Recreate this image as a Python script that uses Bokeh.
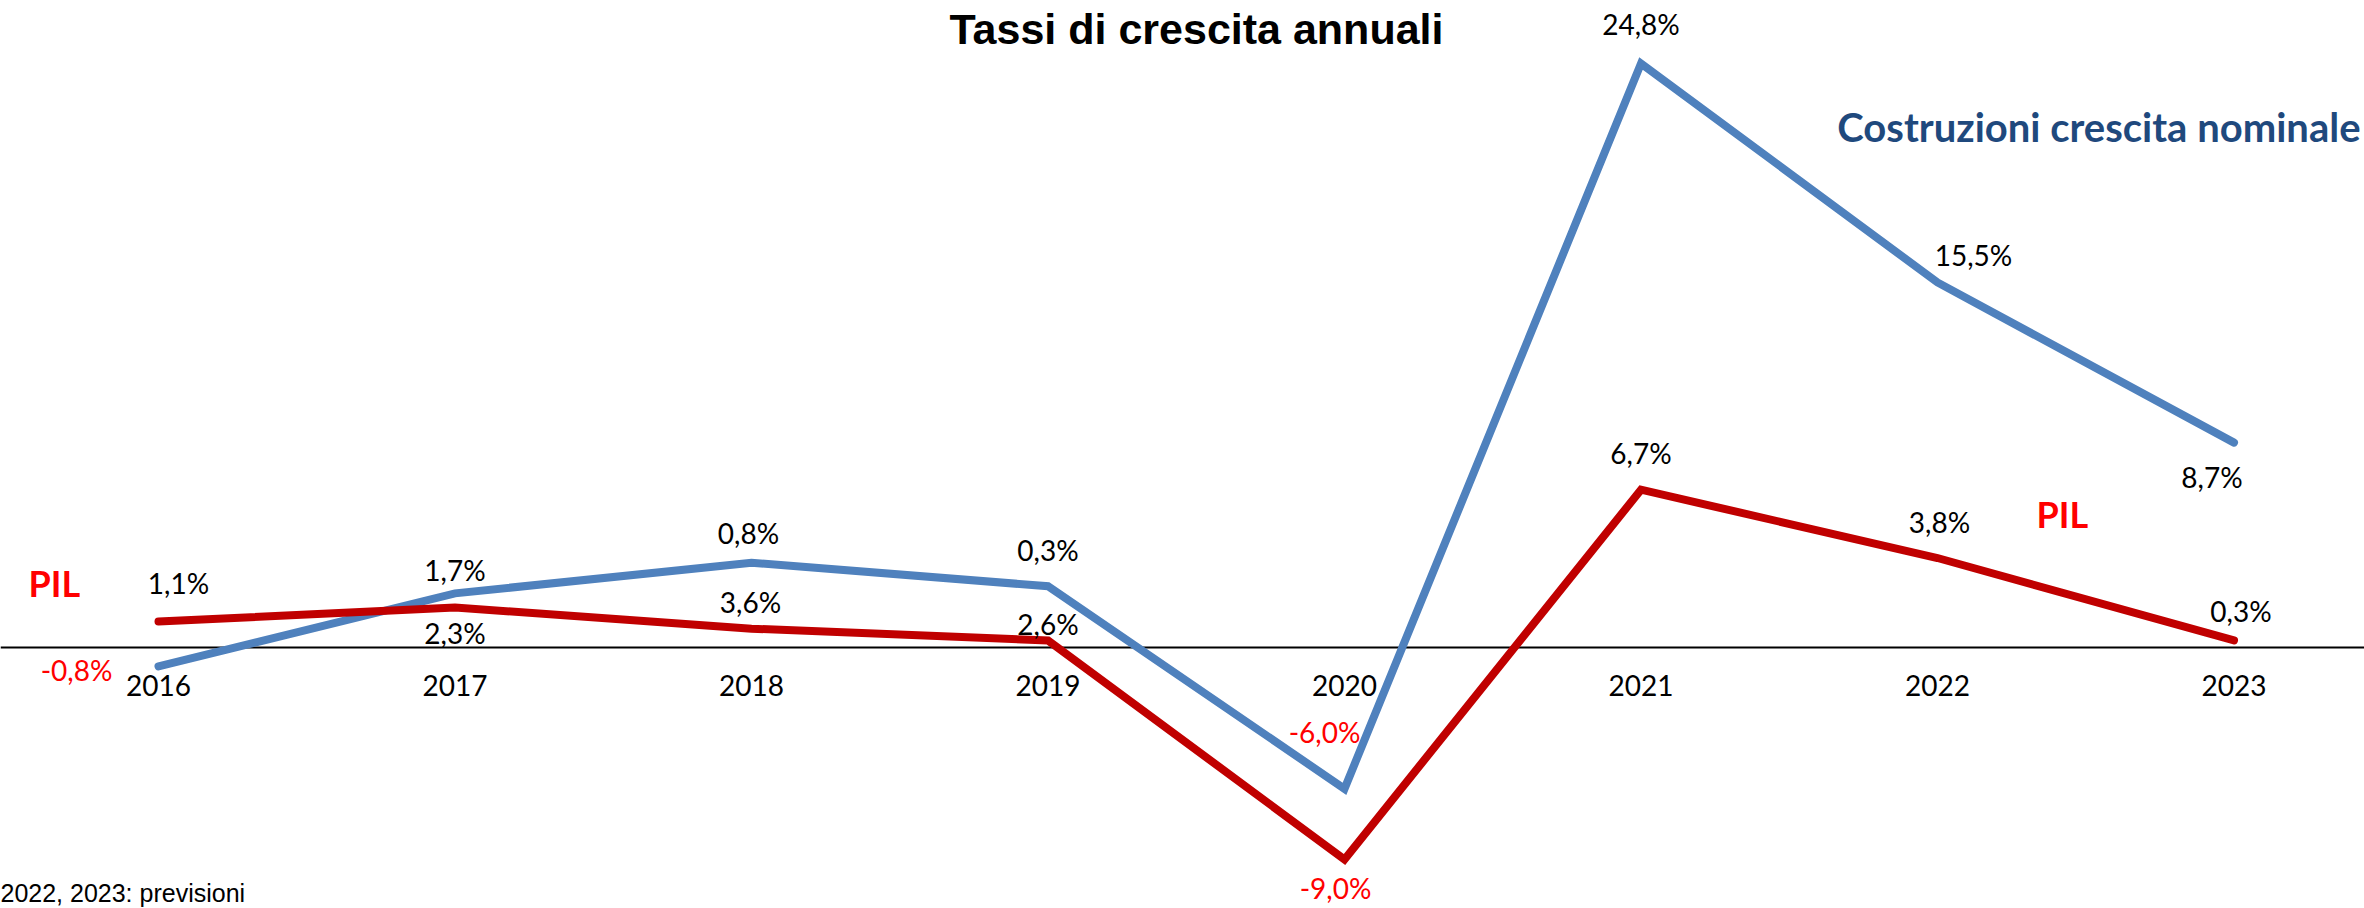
from bokeh.plotting import figure
from bokeh.models import ColumnDataSource, FixedTicker, Label, Range1d
from bokeh.core.properties import value
from bokeh.embed import file_html
from bokeh.resources import INLINE

# ---------------- data ----------------
years = ["2016", "2017", "2018", "2019", "2020", "2021", "2022", "2023"]
pil = [1.1, 1.7, 0.8, 0.3, -9.0, 6.7, 3.8, 0.3]
costruzioni = [-0.8, 2.3, 3.6, 2.6, -6.0, 24.8, 15.5, 8.7]

title_text = "Tassi di crescita annuali"
costr_name = "Costruzioni crescita nominale"
pil_name = "PIL"
footnote = "2022, 2023: previsioni"

# ---------------- layout (screen px) ----------------
FIG_W, FIG_H = 2364, 908
X0_PX, STEP_PX = 158.0, 296.5
ZERO_PX, PX_PER_PCT = 647.0, 23.55

# data-label offsets in screen pixels (x right, y down), to baseline
pil_dx = [20, 0, -3, 0, -9, 0, 2, 7]
pil_dy = [-28, -27, -85, -80, 39, -26, -26, -19]
costr_dx = [-82, 0, -1, 0, -20, 0, 36, -22]
costr_dy = [14, 50, 50, 48, -46, -29, -17, 45]

x_start = (0 - X0_PX) / STEP_PX
x_end = (FIG_W - X0_PX) / STEP_PX
y_end = (ZERO_PX - 0) / PX_PER_PCT
y_start = (ZERO_PX - FIG_H) / PX_PER_PCT


def dx(px):
    return x_start + px / STEP_PX


def dy(py):
    return (ZERO_PX - py) / PX_PER_PCT


def bshift(size_px):
    # rendered baseline sits lower than requested; compensate
    return 0.37 * size_px


BLUE = "#4F81BD"
DARKRED = "#C00000"
RED = "#FF0000"
NAVY = "#1F497D"
LABEL_FONT = "Lato"
LABEL_PX = 28
LABEL_SIZE = f"{LABEL_PX}px"


def fmt(v):
    return f"{v:.1f}%".replace(".", ",")


p = figure(width=FIG_W, height=FIG_H, output_backend="svg", toolbar_location=None,
           x_range=Range1d(x_start, x_end), y_range=Range1d(y_start, y_end),
           y_axis_location=None, min_border=0)
p.outline_line_color = None
p.grid.visible = False
p.background_fill_color = "white"
p.border_fill_color = "white"

xs = list(range(len(years)))
src = ColumnDataSource(dict(
    x=xs, pil=pil, costr=costruzioni,
    pil_lbl=[fmt(v) for v in pil], costr_lbl=[fmt(v) for v in costruzioni],
    pil_col=[RED if v < 0 else "black" for v in pil],
    costr_col=[RED if v < 0 else "black" for v in costruzioni],
    pil_dx=pil_dx, pil_dy=[d - bshift(LABEL_PX) for d in pil_dy],
    costr_dx=costr_dx, costr_dy=[d - bshift(LABEL_PX) for d in costr_dy],
))

ax = p.xaxis[0]
ax.level = "underlay"
ax.ticker = FixedTicker(ticks=xs)
ax.major_label_overrides = {i: y for i, y in zip(xs, years)}
ax.fixed_location = 0
ax.axis_line_color = "black"
ax.axis_line_width = 2
ax.major_tick_line_color = None
ax.minor_tick_line_color = None
ax.major_tick_out = 0
ax.major_tick_in = 0
ax.major_label_standoff = 27
ax.major_label_text_font = LABEL_FONT
ax.major_label_text_font_size = LABEL_SIZE
ax.major_label_text_color = "black"

p.line("x", "costr", source=src, line_color=BLUE, line_width=8,
       line_join="miter", line_cap="round")
p.line("x", "pil", source=src, line_color=DARKRED, line_width=8,
       line_join="miter", line_cap="round")

p.text("x", "pil", text="pil_lbl", source=src, x_offset="pil_dx", y_offset="pil_dy",
       text_color="pil_col", text_font=value(LABEL_FONT), text_font_size=LABEL_SIZE,
       text_align="center", text_baseline="alphabetic")
p.text("x", "costr", text="costr_lbl", source=src, x_offset="costr_dx", y_offset="costr_dy",
       text_color="costr_col", text_font=value(LABEL_FONT), text_font_size=LABEL_SIZE,
       text_align="center", text_baseline="alphabetic")


def add_label(px, py, text, size, font, color, align="left", bold=False):
    p.add_layout(Label(x=dx(px), y=dy(py - bshift(size)), text=text, text_align=align,
                       text_baseline="alphabetic", text_font=font,
                       text_font_style="bold" if bold else "normal",
                       text_font_size=f"{size}px", text_color=color))


add_label(1196, 44, title_text, 43, "Liberation Sans", "black", "center", True)
add_label(2360, 141, costr_name, 40, LABEL_FONT, NAVY, "right", True)
add_label(28, 596, pil_name, 36, LABEL_FONT, RED, "left", True)
add_label(2036, 527, pil_name, 36, LABEL_FONT, RED, "left", True)
add_label(0, 902, footnote, 25, "Liberation Sans", "black", "left")

open("out.html", "w").write(file_html(p, INLINE))
